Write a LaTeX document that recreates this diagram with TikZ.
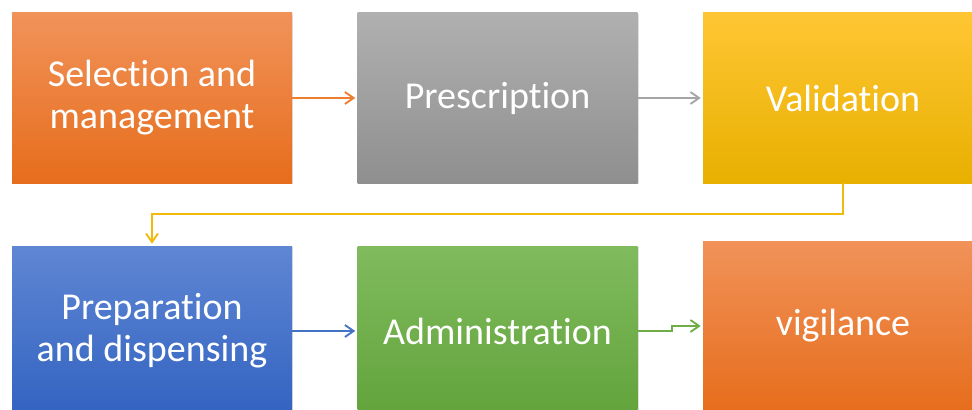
\documentclass[tikz,border=0pt]{standalone}
\usepackage{fontspec}
\setmainfont{Carlito}[Ligatures=NoCommon]
\usetikzlibrary{arrows.meta,shadows}
\definecolor{orT}{HTML}{F19259}
\definecolor{orB}{HTML}{E66D1C}
\definecolor{orL}{HTML}{ED7D31}
\definecolor{grT}{HTML}{B0B0B0}
\definecolor{grB}{HTML}{8F8F8F}
\definecolor{grL}{HTML}{A5A5A5}
\definecolor{yeT}{HTML}{FFC634}
\definecolor{yeB}{HTML}{E8B000}
\definecolor{yeL}{HTML}{F2BA0A}
\definecolor{blT}{HTML}{5F86D3}
\definecolor{blB}{HTML}{3263C1}
\definecolor{blL}{HTML}{4472C4}
\definecolor{gnT}{HTML}{80BB5E}
\definecolor{gnB}{HTML}{62A33B}
\definecolor{gnL}{HTML}{70AD47}
\tikzset{
  box/.style={rectangle, minimum width=210pt, minimum height=127.5pt, inner sep=0pt,
    text=white, align=center, font=\fontsize{28.5}{31.5}\selectfont,
    drop shadow={opacity=0.25, shadow xshift=1pt, shadow yshift=-1pt}},
  conn/.style={line width=1.4pt, -{Straight Barb[length=6.5pt,width=9pt,line width=1.4pt]}, shorten >=1.5pt}
}
\begin{document}
\begin{tikzpicture}[x=0.75pt,y=-0.75pt]
\useasboundingbox (0,0) rectangle (972,410);
\clip (0,0) rectangle (972,410);
\node[box, top color=orT, bottom color=orB] (b1) at (152,98) {Selection and\\management};
\node[box, top color=grT, bottom color=grB] (b2) at (497.5,98) {Prescription};
\node[box, top color=yeT, bottom color=yeB] (b3) at (843,98) {Validation};
\node[box, top color=blT, bottom color=blB] (b4) at (152,331) {Preparation\\and dispensing};
\node[box, top color=gnT, bottom color=gnB] (b5) at (497.5,331) {Administration};
\node[box, top color=orT, bottom color=orB] (b6) at (843,326) {vigilance};
\coordinate (m) at (152,214);
\draw[conn, orL] (b1.east) -- (b2.west);
\draw[conn, grL] (b2.east) -- (b3.west);
\draw[conn, yeL] (b3.south) |- (m) -- (b4.north);
\draw[conn, blL] (b4.east) -- (b5.west);
\draw[conn, gnL] (b5.east) -- ++(34,0) |- (b6.west);
\end{tikzpicture}
\end{document}
